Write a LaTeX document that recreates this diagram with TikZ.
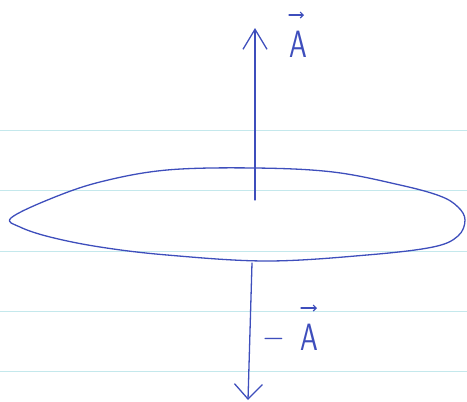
\documentclass[tikz,border=0pt]{standalone}
\usepackage{fontspec}
\usetikzlibrary{arrows.meta}
\definecolor{ink}{RGB}{62,78,188}
\definecolor{rule}{RGB}{196,232,236}
\tikzset{
  ruling/.style={draw=rule, line width=0.9pt},
  pen/.style={draw=ink, line width=1.3pt, line cap=round, line join=round},
  vecarrow/.style={pen, -{Straight Barb[length=20pt,width=24pt,line width=1.3pt]}},
  overarrow/.style={draw=ink, line width=1.1pt, line cap=round, -{Straight Barb[length=3pt,width=6pt,line width=1.1pt]}},
  lbl/.style={text=ink, inner sep=0pt, xscale=0.75, font=\sffamily\fontsize{38}{40}\selectfont}
}
\begin{document}
\begin{tikzpicture}[x=1pt,y=-1pt]
\useasboundingbox (0,0) rectangle (467,402);
% ruled paper lines
\foreach \yy in {130,190,251,311,371}{
  \draw[ruling] (0,\yy) -- (467,\yy);
}
% disk
\draw[pen] plot[smooth cycle, tension=0.6] coordinates {
  (11,218) (50,199) (100,182) (167,170) (255,168) (333,172) (400,185)
  (440,196) (458,207) (465,220) (458,236) (433,247) (367,255) (267,261)
  (167,255) (100,247) (50,237) (20,227)};
% vectors
\coordinate (c) at (255,200);
\coordinate (top) at (255,28);
\coordinate (b) at (252,263);
\coordinate (bot) at (248,400);
\draw[vecarrow] (c) -- (top);
\draw[vecarrow, -{Straight Barb[length=15pt,width=28pt,line width=1.3pt]}] (b) -- (bot);
% labels
\node[lbl, anchor=base] (A) at (298,57) {A};
\draw[overarrow] ([shift={(-9,-42)}]A.base) -- ([shift={(6,-42)}]A.base);
\node[lbl, anchor=base] (mA) at (309,350) {A};
\node[lbl, anchor=base] (minus) at (274,348) {−};
\draw[overarrow] ([shift={(-8,-42)}]mA.base) -- ([shift={(8,-42)}]mA.base);
\end{tikzpicture}
\end{document}
